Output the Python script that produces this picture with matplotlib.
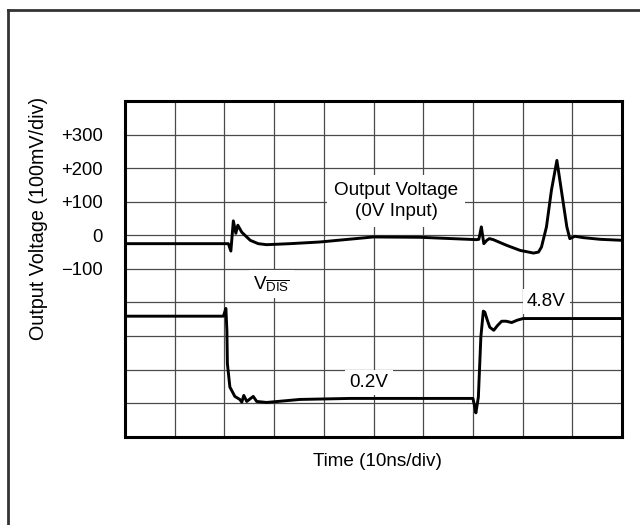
import numpy as np
import matplotlib
matplotlib.use("Agg")
import matplotlib.pyplot as plt
from matplotlib.lines import Line2D

plt.rcParams['font.family'] = ['Liberation Sans', 'DejaVu Sans']
plt.rcParams['mathtext.fontset'] = 'custom'
plt.rcParams['mathtext.rm'] = 'Liberation Sans'
plt.rcParams['mathtext.it'] = 'Liberation Sans'

# output voltage trace (0V input), x in divisions, y in mV
t_out = [0, 2.08, 2.13, 2.18, 2.23, 2.27, 2.35, 2.52, 2.68, 2.85, 3.32, 3.92, 5.0, 5.94,
         7.07, 7.12, 7.17, 7.22, 7.28, 7.33, 7.41, 7.68, 7.95, 8.22, 8.32, 8.38, 8.48,
         8.58, 8.69, 8.77, 8.89, 8.95, 9.05, 9.22, 9.56, 10.0]
v_out = [-25, -25, -47, 43, 6, 30, 9, -15, -25, -28, -25, -20, -5, -6,
         -13, -12, 25, -25, -15, -10, -13, -30, -45, -53, -50, -35, 25,
         134, 223, 144, 25, -10, -3, -7, -12, -15]

# disable (V_DIS) trace
t_dis = [0, 1.98, 2.03, 2.05, 2.06, 2.11, 2.21, 2.31, 2.35, 2.39, 2.45, 2.58, 2.65, 2.85,
         3.52, 4.53, 5.94, 7.0, 7.03, 7.06, 7.11, 7.16, 7.21, 7.24, 7.29, 7.34, 7.42,
         7.50, 7.58, 7.67, 7.78, 7.89, 8.01, 10.0]
v_dis = [-241, -241, -218, -283, -382, -452, -480, -489, -497, -477, -495, -480, -495, -498,
         -489, -486, -486, -486, -506, -529, -482, -303, -226, -229, -253, -274, -283,
         -268, -256, -256, -260, -253, -248, -248]

ytick_vals = [300, 200, 100, 0, -100]
ytick_labels = ['+300', '+200', '+100', '0', '\u2212100']

fig = plt.figure(figsize=(6.4, 5.25), dpi=100)
ax = fig.add_axes([125/640, 1 - 436.7/525, 497/640, 335.7/525])

ax.set_xlim(0, 10)
ax.set_ylim(-600, 400)
ax.set_xticks(np.arange(0, 11, 1))
ax.set_yticks(np.arange(-600, 401, 100))
ax.set_xticklabels([])
ax.set_yticklabels([ytick_labels[ytick_vals.index(v)] if v in ytick_vals else ''
                    for v in range(-600, 401, 100)])
ax.tick_params(length=0, labelsize=13.3, pad=16)
ax.grid(True, color='#4a4a4a', lw=0.9)
ax.set_axisbelow(True)
for s in ax.spines.values():
    s.set_linewidth(2.2)

ax.plot(t_out, v_out, color='black', lw=2.1, zorder=3)
ax.plot(t_dis, v_dis, color='black', lw=2.1, zorder=3)

box = dict(facecolor='white', edgecolor='none', pad=3)
ax.text(5.46, 102, 'Output Voltage\n(0V Input)', ha='center', va='center',
        fontsize=13.6, linespacing=1.3, bbox=dict(facecolor='white', edgecolor='none', pad=5), zorder=4)
ax.text(2.95, -145, r'V$_{\overline{\mathrm{DIS}}}$', ha='center', va='center',
        fontsize=13.6, bbox=box, zorder=4)
ax.text(4.91, -439, '0.2V', ha='center', va='center', fontsize=13.6, bbox=box, zorder=4)
ax.text(8.48, -197, '4.8V', ha='center', va='center', fontsize=13.6, bbox=box, zorder=4)

fig.text(39/640, 1 - 218/525, 'Output Voltage (100mV/div)', rotation=90,
         ha='center', va='center', fontsize=14.2)
fig.text(377/640, 1 - 462/525, 'Time (10ns/div)', ha='center', va='center', fontsize=13.6)

# outer frame (runs off the right and bottom edges)
fig.add_artist(Line2D([7.5/640, 1.0], [1 - 9.5/525, 1 - 9.5/525], color='#333333', lw=2))
fig.add_artist(Line2D([7.5/640, 7.5/640], [0.0, 1 - 9.5/525], color='#333333', lw=2))

fig.savefig('out.png', dpi=100)
